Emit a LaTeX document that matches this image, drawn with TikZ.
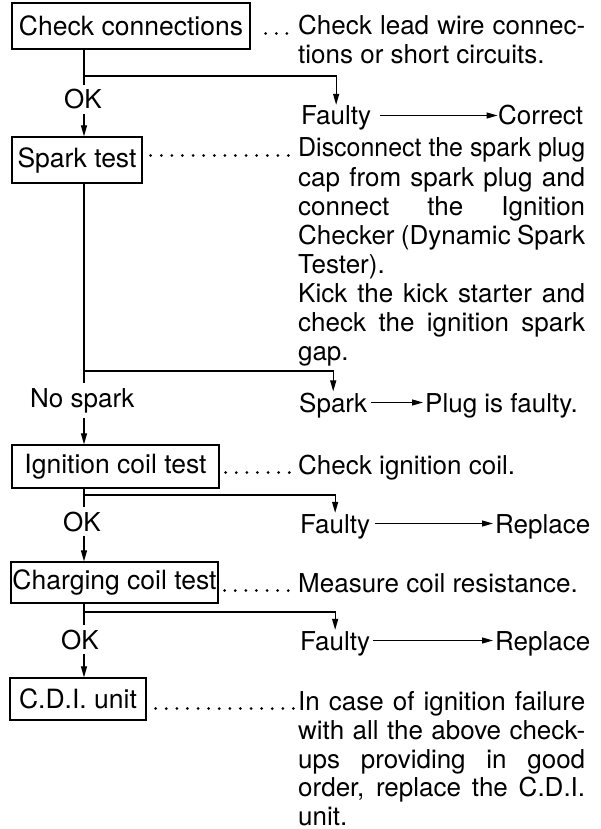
\documentclass[tikz,border=0pt]{standalone}
\usepackage{fontspec}
\usepackage{graphicx}
\setmainfont{TeX Gyre Heros}
\usetikzlibrary{arrows.meta,calc}
\newcommand\jl[1]{\makebox[287pt][s]{#1}}
\begin{document}
\begin{tikzpicture}[x=1pt,y=-1pt,
  box/.style={draw,line width=1.3pt,inner sep=0pt,font=\fontsize{26.5}{30}\selectfont},
  txt/.style={anchor=base west,inner sep=0pt,font=\fontsize{26}{29}\selectfont},
  lbl/.style={anchor=base,inner xsep=1pt,inner ysep=5pt,fill=white,font=\fontsize{26}{30}\selectfont},
  conn/.style={line width=1.2pt},
  arr/.style={conn,-{Triangle[length=11pt,width=6pt]}},
  leader/.style={line width=3pt,line cap=round,dash pattern=on 0pt off 10.6pt}]
\useasboundingbox[fill=white] (0,0) rectangle (600,829);
\coordinate (tx) at (84,0);
\coordinate (j1) at (84,76);
\coordinate (j2) at (84,371);
\coordinate (j3) at (84,495);
\coordinate (j4) at (84,612);
% boxes
\node[box,minimum width=238pt,minimum height=46pt] (b1) at (131,26) {Check connections};
\node[box,minimum width=130pt,minimum height=46pt] (b2) at (77,160) {Spark test};
\node[box,minimum width=207pt,minimum height=43pt] (b3) at (115.5,466.5) {Ignition coil test};
\node[box,minimum width=207pt,minimum height=41pt] (b4) at (114.5,582.5) {Charging coil test};
\node[box,minimum width=136pt,minimum height=42pt] (b5) at (78,699) {C.D.I. unit};
% right texts
\node[txt] (r1) at (298,35) {\jl{Check lead wire connec-}};
\node[txt] (r2) at (298,64) {tions or short circuits.};
\node[txt] (f1) at (301,125) {Faulty};
\node[txt] (c1) at (498,125) {Correct};
\node[txt] (s1) at (298,157) {\resizebox{287pt}{\height}{Disconnect the spark plug}};
\node[txt] (s2) at (298,186) {\jl{cap from spark plug and}};
\node[txt] (s3) at (298,215) {\jl{connect the Ignition}};
\node[txt] (s4) at (298,244) {\jl{Checker (Dynamic Spark}};
\node[txt] (s5) at (298,273) {Tester).};
\node[txt] (s6) at (298,302) {\jl{Kick the kick starter and}};
\node[txt] (s7) at (298,331) {\jl{check the ignition spark}};
\node[txt] (s8) at (298,360) {gap.};
\node[txt] (sp) at (299,412) {Spark};
\node[txt] (pl) at (425,412) {Plug is faulty.};
\node[txt] (i1) at (298,474) {Check ignition coil.};
\node[txt] (f2) at (300,533) {Faulty};
\node[txt] (rp2) at (495,533) {Replace};
\node[txt] (m1) at (298,592) {Measure coil resistance.};
\node[txt] (f3) at (300,650) {Faulty};
\node[txt] (rp3) at (495,650) {Replace};
\node[txt] (u1) at (298,710) {\jl{In case of ignition failure}};
\node[txt] (u2) at (298,739) {\jl{with all the above check-}};
\node[txt] (u3) at (298,768) {\jl{ups providing in good}};
\node[txt] (u4) at (298,796) {\jl{order, replace the C.D.I.}};
\node[txt] (u5) at (298,825) {unit.};
% leaders
\draw[leader] ($(b1.east |- r1.base)+(15,-1.5)$) -- ($(r1.base west)+(-4,-1.5)$);
\draw[leader] ($(b2.east |- s1.base)+(8,-1.5)$) -- ($(s1.base west)+(-4,-1.5)$);
\draw[leader] ($(b3.east |- i1.base)+(6,-1.5)$) -- ($(i1.base west)+(-4,-1.5)$);
\draw[leader] ($(b4.east |- m1.base)+(6,-1.5)$) -- ($(m1.base west)+(-4,-1.5)$);
\draw[leader] ($(b5.east |- u1.base)+(9,-1.5)$) -- ($(u1.base west)+(-4,-1.5)$);
% trunk
\draw[arr] (b1.south -| tx) -- (b2.north -| tx);
\draw[arr] (b2.south -| tx) -- (b3.north -| tx);
\draw[arr] (b3.south -| tx) -- (b4.north -| tx);
\draw[arr] (b4.south -| tx) -- (b5.north -| tx);
% branches
\draw[arr,shorten >=1pt] (j1) -| (f1.north);
\draw[arr,shorten >=1pt] (j2) -| (sp.north);
\draw[arr,shorten >=1pt] (j3) -| (f2.north);
\draw[arr,shorten >=1pt] (j4) -| (f3.north);
% horizontal arrows
\draw[arr,shorten <=9pt,shorten >=0.5pt] ([yshift=9.5pt]f1.base east) -- ([yshift=9.5pt]c1.base west);
\draw[arr,shorten <=3.5pt,shorten >=2pt] ([yshift=9.5pt]sp.base east) -- ([yshift=9.5pt]pl.base west);
\draw[arr,shorten <=5pt,shorten >=2pt] ([yshift=9.5pt]f2.base east) -- ([yshift=9.5pt]rp2.base west);
\draw[arr,shorten <=3pt,shorten >=2pt] ([yshift=9.5pt]f3.base east) -- ([yshift=9.5pt]rp3.base west);
% labels on trunk
\node[lbl] (ok1) at (83,109) {OK};
\node[lbl,anchor=base west] (ns) at (29,407) {No spark};
\node[lbl] (ok2) at (82,531) {OK};
\node[lbl] (ok3) at (80,649) {OK};
\end{tikzpicture}
\end{document}
